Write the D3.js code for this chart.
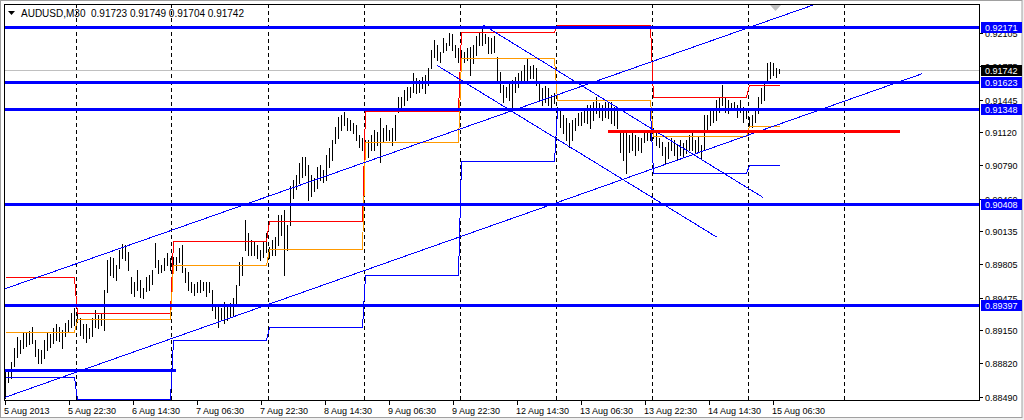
<!DOCTYPE html>
<html><head><meta charset="utf-8">
<script src="https://cdn.jsdelivr.net/npm/d3@7"></script>
<style>
html,body{margin:0;padding:0;background:#fff;}
svg{display:block;font-family:"Liberation Sans",Arial,sans-serif;}
</style></head><body>
<svg id="chart" width="1024" height="420"></svg>
<script>
// ---------------- DATA ----------------
const symbol = "AUDUSD,M30";
const lastOHLC = [0.91723, 0.91749, 0.91704, 0.91742];
const bidPrice = 0.91742;

// bars per trading day (5 Aug partial ... 15 Aug partial)
const dayBarCounts = [24, 32, 32, 32, 32, 32, 32, 32, 11];

const highs = [
 // 5 Aug
 0.8874,0.8874,0.8883,0.8897,0.8908,0.8905,0.8913,0.8913,0.8914,0.8918,0.8905,0.8896,0.8895,0.8905,0.8912,0.8911,0.8917,0.8921,0.8918,0.8915,0.8922,0.8925,0.8932,0.8937,
 // 6 Aug
 0.8937,0.8927,0.8921,0.8921,0.8917,0.8927,0.8935,0.8930,0.8932,0.8955,0.8985,0.8988,0.8987,0.8980,0.8995,0.9001,0.9000,0.8993,0.8968,0.8963,0.8975,0.8965,0.8957,0.8968,0.8970,0.8975,0.9002,0.8985,0.8980,0.8987,0.8992,0.8987,
 // 7 Aug
 0.8988,0.8988,0.8997,0.9000,0.8977,0.8973,0.8963,0.8961,0.8963,0.8965,0.8963,0.8963,0.8963,0.8955,0.8940,0.8940,0.8937,0.8943,0.8938,0.8942,0.8947,0.8960,0.8983,0.8988,0.9025,0.9012,0.9005,0.9003,0.9000,0.8995,0.9003,0.9012,
 // 8 Aug
 0.8998,0.9005,0.9008,0.9030,0.9030,0.9035,0.9020,0.9059,0.9064,0.9069,0.9081,0.9087,0.9087,0.9079,0.9069,0.9066,0.9077,0.9079,0.9074,0.9089,0.9096,0.9104,0.9117,0.9127,0.9129,0.9132,0.9126,0.9124,0.9121,0.9119,0.9109,0.9106,
 // 9 Aug
 0.9104,0.9104,0.9109,0.9114,0.9112,0.9126,0.9116,0.9119,0.9114,0.9116,0.9129,0.9147,0.9147,0.9154,0.9157,0.9157,0.9171,0.9166,0.9164,0.9167,0.9169,0.9176,0.9194,0.9204,0.9199,0.9192,0.9206,0.9201,0.9211,0.9210,0.9199,0.9196,
 // 12 Aug
 0.9194,0.9192,0.9196,0.9197,0.9199,0.9208,0.9211,0.9218,0.9210,0.9207,0.9206,0.9208,0.9187,0.9172,0.9159,0.9157,0.9162,0.9164,0.9167,0.9171,0.9173,0.9179,0.9186,0.9178,0.9179,0.9176,0.9162,0.9156,0.9158,0.9156,0.9149,0.9151,
 // 13 Aug
 0.9137,0.9134,0.9129,0.9126,0.9121,0.9124,0.9126,0.9131,0.9132,0.9134,0.9139,0.9139,0.9142,0.9147,0.9141,0.9139,0.9142,0.9141,0.9142,0.9137,0.9134,0.9114,0.9112,0.9114,0.9109,0.9112,0.9109,0.9107,0.9106,0.9114,0.9114,0.9114,
 // 14 Aug
 0.9116,0.9111,0.9106,0.9102,0.9097,0.9102,0.9106,0.9104,0.9099,0.9104,0.9101,0.9104,0.9109,0.9111,0.9104,0.9107,0.9099,0.9129,0.9129,0.9134,0.9134,0.9144,0.9146,0.9159,0.9147,0.9144,0.9141,0.9142,0.9139,0.9144,0.9137,0.9136,
 // 15 Aug
 0.9127,0.9129,0.9134,0.9147,0.9156,0.9162,0.9181,0.9182,0.9181,0.9176,0.91749
];
const lows = [
 0.8848,0.8864,0.8868,0.8880,0.8888,0.8892,0.8897,0.8899,0.8901,0.8902,0.8889,0.8882,0.8882,0.8887,0.8895,0.8898,0.8902,0.8905,0.8904,0.8897,0.8909,0.8913,0.8918,0.8920,
 0.8923,0.8910,0.8907,0.8903,0.8907,0.8909,0.8918,0.8917,0.8920,0.8915,0.8953,0.8970,0.8968,0.8965,0.8977,0.8987,0.8985,0.8975,0.8952,0.8949,0.8955,0.8948,0.8947,0.8954,0.8955,0.8961,0.8978,0.8972,0.8973,0.8975,0.8980,0.8975,
 0.8980,0.8975,0.8983,0.8973,0.8963,0.8955,0.8953,0.8950,0.8953,0.8953,0.8955,0.8949,0.8953,0.8935,0.8927,0.8918,0.8925,0.8922,0.8925,0.8928,0.8930,0.8940,0.8960,0.8970,0.8995,0.8990,0.8990,0.8990,0.8987,0.8985,0.8988,0.8993,
 0.8987,0.8990,0.8990,0.9000,0.9010,0.8970,0.8995,0.9020,0.9047,0.9056,0.9061,0.9067,0.9069,0.9045,0.9049,0.9054,0.9057,0.9064,0.9062,0.9064,0.9077,0.9084,0.9101,0.9106,0.9114,0.9119,0.9114,0.9114,0.9111,0.9104,0.9097,0.9094,
 0.9092,0.9087,0.9094,0.9094,0.9099,0.9082,0.9102,0.9104,0.9104,0.9099,0.9104,0.9132,0.9134,0.9139,0.9144,0.9147,0.9152,0.9151,0.9152,0.9156,0.9151,0.9159,0.9176,0.9187,0.9184,0.9182,0.9192,0.9194,0.9199,0.9194,0.9187,0.9182,
 0.9177,0.9182,0.9184,0.9169,0.9181,0.9189,0.9199,0.9199,0.9201,0.9191,0.9191,0.9192,0.9162,0.9152,0.9142,0.9147,0.9144,0.9134,0.9152,0.9157,0.9161,0.9164,0.9164,0.9166,0.9166,0.9159,0.9144,0.9139,0.9142,0.9139,0.9136,0.9141,
 0.9127,0.9117,0.9111,0.9104,0.9097,0.9104,0.9114,0.9119,0.9119,0.9122,0.9121,0.9116,0.9124,0.9131,0.9127,0.9124,0.9127,0.9126,0.9121,0.9119,0.9116,0.9092,0.9084,0.9071,0.9092,0.9094,0.9089,0.9094,0.9092,0.9102,0.9104,0.9104,
 0.9106,0.9099,0.9097,0.9089,0.9081,0.9086,0.9094,0.9089,0.9084,0.9089,0.9087,0.9091,0.9094,0.9094,0.9091,0.9092,0.9086,0.9094,0.9114,0.9119,0.9122,0.9124,0.9132,0.9139,0.9132,0.9131,0.9134,0.9134,0.9127,0.9132,0.9122,0.9126,
 0.9119,0.9117,0.9122,0.9131,0.9141,0.9144,0.9162,0.9166,0.9169,0.9167,0.91704
];

// daily indicator levels (one value per day)
const redLevels    = [0.8968, 0.8932, 0.9004, 0.9024, 0.9133, 0.9212, 0.9219, 0.9147, 0.9159];
const orangeLevels = [0.8913, 0.8926, 0.8980, 0.8996, 0.9102, 0.9186, 0.9144, 0.9108, 0.9118];
const blueLevels   = [0.8869, 0.8847, 0.8905, 0.8918, 0.8970, 0.9083, 0.9134, 0.9071, 0.9079];

// horizontal support / resistance levels (full width)
const hLevels = [0.92171, 0.91623, 0.91348, 0.90408, 0.89397];
// short horizontal segments [price, fromBar, toBar]
const shortBlue = [0.8876, -0.33, 56.9];
const redLevel  = [0.9113, 200.9, 298.3];

// trend lines: [bar1, price1, bar2, price2, isRay]
const trendLines = [
 [-0.33, 0.8956, 231.67, 0.9199, true],
 [-0.33, 0.8848, 305.57, 0.9170, false],
 [159.43, 0.92187, 252.57, 0.90473, false],
 [144.1, 0.91783, 237.23, 0.90077, false]
];

const yTicks = [0.92105,0.91775,0.91445,0.91120,0.90790,0.90460,0.90135,0.89805,0.89475,0.89150,0.88820,0.88490];
const timeLabels = ["5 Aug 2013","5 Aug 22:30","6 Aug 14:30","7 Aug 06:30","7 Aug 22:30","8 Aug 14:30","9 Aug 06:30","9 Aug 22:30","12 Aug 14:30","13 Aug 06:30","13 Aug 22:30","14 Aug 14:30","15 Aug 06:30"];
const hoursPerLabel = 16;
const hoursPerBar = 0.75;

// ---------------- LAYOUT ----------------
const P = {l: 4, r: 979, t: 4, b: 400};
const svg = d3.select("#chart");
const nBars = highs.length;
const x = d3.scaleLinear().domain([0, nBars - 1]).range([5, 779]);
const y = d3.scaleLinear().domain([0.88457, 0.92395]).range([P.b, P.t]);
const px = v => Math.round(v) + 0.5;

// window frame
svg.append("rect").attr("width",1024).attr("height",420).attr("fill","#f0f0f0");
svg.append("rect").attr("x",0.5).attr("y",0.5).attr("width",1021.5).attr("height",417)
  .attr("fill","#fff").attr("stroke","#a0a0a0");

svg.append("defs").append("clipPath").attr("id","clip")
  .append("rect").attr("x",P.l).attr("y",P.t).attr("width",P.r-P.l).attr("height",P.b-P.t);
const g = svg.append("g").attr("clip-path","url(#clip)").attr("shape-rendering","crispEdges");

// day starts
const dayStart = [];
let acc = 0;
dayBarCounts.forEach(c => { dayStart.push(acc); acc += c; });

// period separators
const seps = dayStart.slice(1).map(s => s - 0.5).concat([dayStart[dayStart.length-1] + 32 - 0.5]);
g.selectAll("line.sep").data(seps).join("line").attr("class","sep")
  .attr("x1",d=>px(x(d))).attr("x2",d=>px(x(d))).attr("y1",P.t).attr("y2",P.b)
  .attr("stroke","#000").attr("stroke-dasharray","4,3");

// bid line
g.append("line").attr("x1",P.l).attr("x2",P.r).attr("y1",px(y(bidPrice))).attr("y2",px(y(bidPrice)))
  .attr("stroke","#c0c0c0");

// bars
g.selectAll("line.bar").data(highs).join("line").attr("class","bar")
  .attr("x1",(d,i)=>px(x(i))).attr("x2",(d,i)=>px(x(i)))
  .attr("y1",d=>Math.round(y(d))).attr("y2",(d,i)=>Math.round(y(lows[i]))+1)
  .attr("stroke","#000");

// step lines
function stepPts(levels){
  const pts = [];
  levels.forEach((lv,k)=>{
    pts.push([dayStart[k], lv]);
    pts.push([dayStart[k] + dayBarCounts[k] - 1, lv]);
  });
  return pts;
}
const line = d3.line().x(d=>Math.round(x(d[0]))+0.5).y(d=>Math.round(y(d[1]))+0.5);
[[redLevels,"#ff0000"],[orangeLevels,"#ff9900"],[blueLevels,"#0000ff"]].forEach(([lv,c])=>{
  g.append("path").attr("d",line(stepPts(lv))).attr("fill","none").attr("stroke",c).attr("stroke-width",1);
});

// trend lines
trendLines.forEach(([b1,p1,b2,p2,ray])=>{
  let eb = b2, ep = p2;
  if (ray) { const s = (p2-p1)/(b2-b1); eb = b2 + 200; ep = p2 + s*200; }
  g.append("line").attr("x1",x(b1)).attr("y1",y(p1)).attr("x2",x(eb)).attr("y2",y(ep))
    .attr("stroke","#0000ff").attr("stroke-width",1);
});

// thick horizontal levels
g.selectAll("line.lvl").data(hLevels).join("line").attr("class","lvl")
  .attr("x1",P.l).attr("x2",P.r).attr("y1",d=>Math.round(y(d))).attr("y2",d=>Math.round(y(d)))
  .attr("stroke","#0000ff").attr("stroke-width",3);
g.append("line").attr("x1",P.l).attr("x2",x(shortBlue[2]))
  .attr("y1",Math.round(y(shortBlue[0]))).attr("y2",Math.round(y(shortBlue[0])))
  .attr("stroke","#0000ff").attr("stroke-width",3);
g.append("line").attr("x1",x(redLevel[1])).attr("x2",x(redLevel[2]))
  .attr("y1",Math.round(y(redLevel[0]))).attr("y2",Math.round(y(redLevel[0])))
  .attr("stroke","#ff0000").attr("stroke-width",3);

// chart shift marker
svg.append("path").attr("d","M769,4 L782,4 L775.5,11 Z").attr("fill","#c0c0c0");

// plot border
svg.append("rect").attr("x",P.l+0.5).attr("y",P.t+0.5).attr("width",P.r-P.l).attr("height",P.b-P.t)
  .attr("fill","none").attr("stroke","#000").attr("shape-rendering","crispEdges");

// header
svg.append("path").attr("d","M8,11 L15,11 L11.5,15 Z").attr("fill","#000");
svg.append("text").attr("x",21).attr("y",16.5).attr("font-size","10px").attr("fill","#000")
  .attr("xml:space","preserve")
  .text(symbol + "  " + lastOHLC.map(v=>v.toFixed(5)).join(" "));

// y axis
const ya = svg.append("g");
yTicks.forEach(v=>{
  const yy = Math.round(y(v));
  ya.append("line").attr("x1",P.r+1).attr("x2",P.r+4).attr("y1",yy+0.5).attr("y2",yy+0.5)
    .attr("stroke","#000").attr("shape-rendering","crispEdges");
  ya.append("text").attr("x",985).attr("y",yy+3.5).attr("font-size","9px").attr("fill","#000").text(v.toFixed(5));
});
function box(v, fill){
  const yy = Math.round(y(v));
  ya.append("rect").attr("x",981).attr("y",yy-5).attr("width",41).attr("height",11).attr("fill",fill);
  ya.append("text").attr("x",985).attr("y",yy+3.5).attr("font-size","9px").attr("fill","#fff").text(v.toFixed(5));
}
hLevels.forEach(v=>box(v,"#0000ff"));
box(bidPrice,"#000");

// x axis
const xa = svg.append("g");
timeLabels.forEach((t,k)=>{
  const xx = Math.round(x(k*hoursPerLabel/hoursPerBar));
  xa.append("line").attr("x1",xx+0.5).attr("x2",xx+0.5).attr("y1",P.b+1).attr("y2",P.b+5)
    .attr("stroke","#000").attr("shape-rendering","crispEdges");
  xa.append("text").attr("x",xx-1).attr("y",413.5).attr("font-size","9px").attr("fill","#000").text(t);
});
</script>
</body></html>
